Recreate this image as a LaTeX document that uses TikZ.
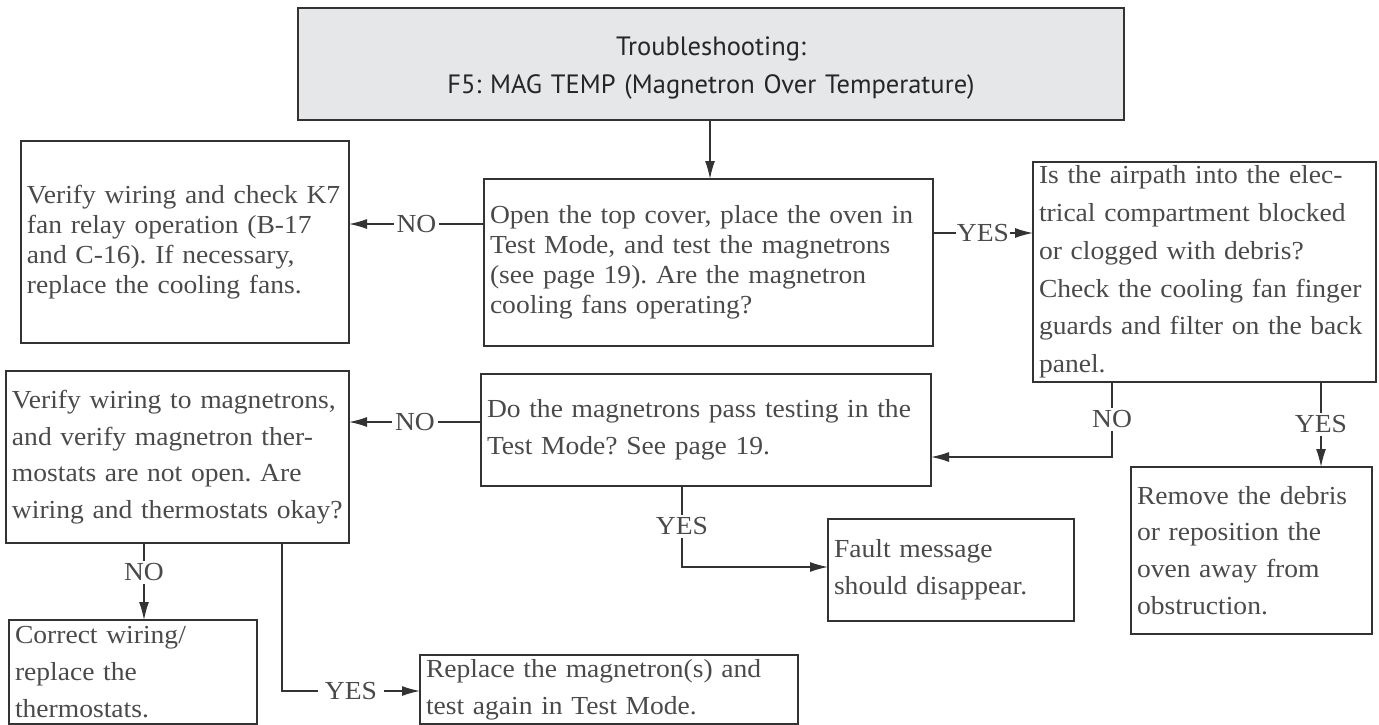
\documentclass[tikz,border=0pt]{standalone}
\usepackage{fontspec}
\setmainfont{Liberation Serif}[FakeStretch=1.06]
\newfontfamily\titlefont{PT Sans}
\usetikzlibrary{arrows.meta,positioning}
\definecolor{linegray}{HTML}{333333}
\definecolor{textgray}{HTML}{4A4A4A}
\definecolor{titlefill}{HTML}{E6E7E8}
\frenchspacing
\begin{document}
\begin{tikzpicture}[x=1pt,y=-1pt,
  box/.style={draw=linegray,line width=1.4pt,anchor=north west,align=left,inner xsep=6pt,inner ysep=3pt,outer sep=0pt,text=textgray,font=\fontsize{26}{36.7}\selectfont},
  tightbox/.style={box,font=\fontsize{26}{30}\selectfont},
  lbl/.style={fill=white,inner sep=3pt,text=textgray,font=\fontsize{26}{30}\selectfont},
  arr/.style={draw=linegray,line width=1.4pt,-{Latex[length=18pt,width=10pt]}}]
\useasboundingbox (0,0) rectangle (1379,725);
% title
\node[box,fill=titlefill,align=center,text=black!85,text width=814pt,minimum height=112pt,font=\titlefont\fontsize{26.5}{38}\selectfont] (title) at (298,8) {\rule{0pt}{27pt}Troubleshooting:\\F5: MAG TEMP (Magnetron Over Temperature)};
% first row
\node[tightbox,text width=316pt,minimum height=202pt] (fanchk) at (21,141) {Verify wiring and check K7\\fan relay operation (B-17\\and C-16). If necessary,\\replace the cooling fans.};
\node[tightbox,text width=437pt,minimum height=167pt] (opencov) at (484,179) {Open the top cover, place the oven in\\Test Mode, and test the magnetrons\\(see page 19). Are the magnetron\\cooling fans operating?};
\node[box,text width=331pt,minimum height=220pt,inner ysep=0pt,font=\fontsize{26}{37.8}\selectfont] (airpath) at (1033,162) {Is the airpath into the elec-\\trical compartment blocked\\or clogged with debris?\\Check the cooling fan finger\\guards and filter on the back\\panel.};
% second row
\node[box,text width=331pt,minimum height=172pt] (wirechk) at (6,371) {Verify wiring to magnetrons,\\and verify magnetron ther-\\mostats are not open. Are\\wiring and thermostats okay?};
\node[box,text width=438pt,minimum height=112pt] (magtest) at (481,374) {Do the magnetrons pass testing in the\\Test Mode? See page 19.};
\node[box,text width=229pt,minimum height=167pt] (debris) at (1131,467) {Remove the debris\\or reposition the\\oven away from\\obstruction.};
\node[box,text width=234pt,minimum height=102pt] (fault) at (828,519) {Fault message\\should disappear.};
% bottom row
\node[box,text width=236pt,minimum height=104pt] (thermo) at (9,620) {Correct wiring/\\replace the\\thermostats.};
\node[box,text width=366pt,minimum height=69pt,inner ysep=1pt] (replmag) at (420,655) {Replace the magnetron(s) and\\test again in Test Mode.};
% connectors
\draw[arr] (710,0 |- title.south) -- (710,0 |- opencov.north);
\draw[arr] (opencov.west |- 0,224) -- node[lbl]{NO} (fanchk.east |- 0,224);
\draw[arr] (opencov.east |- 0,233) -- node[lbl,inner sep=1pt]{YES} (airpath.west |- 0,233);
\draw[arr] (1112,0 |- airpath.south) -- node[lbl]{NO} (1112,457) -- (magtest.east |- 0,457);
\draw[arr] (1321,0 |- airpath.south) -- node[lbl]{YES} (1321,0 |- debris.north);
\draw[arr] (magtest.west |- 0,422) -- node[lbl]{NO} (wirechk.east |- 0,422);
\draw[arr] (682,0 |- magtest.south) -- node[lbl]{YES} (682,567) -- (fault.west |- 0,567);
\draw[arr] (144,0 |- wirechk.south) -- node[lbl,pos=0.38]{NO} (144,0 |- thermo.north);
\draw[arr] (282,0 |- wirechk.south) -- (282,691) -- node[lbl,inner xsep=7pt]{YES} (replmag.west |- 0,691);
\end{tikzpicture}
\end{document}
